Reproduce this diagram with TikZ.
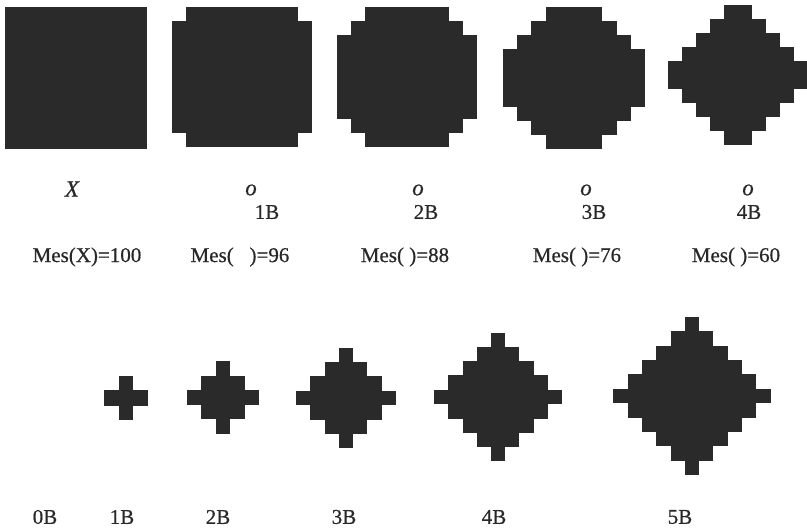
\documentclass[tikz,border=0pt]{standalone}
\usepackage{fontspec}
\setmainfont{Liberation Serif}
\newfontfamily\scanfont{Liberation Serif}[FakeBold=0.6]
\newfontfamily\scanitfont{Liberation Serif Italic}[FakeBold=0.6]
\definecolor{shapefill}{RGB}{42,42,42}
\definecolor{txt}{RGB}{40,40,40}
\newcommand\mysq[4]{%
  \foreach \r in {0,...,9}{%
    \pgfmathtruncatemacro\dd{min(\r,9-\r)}%
    \pgfmathtruncatemacro\mm{max(0,#3-\dd)}%
    \fill[shapefill] ({#1+\mm*#4},{#2+\r*#4-0.3}) rectangle ({#1+(10-\mm)*#4},{#2+(\r+1)*#4+0.3});
  }}
\newcommand\mydiam[4]{%
  \foreach \r in {-#3,...,#3}{%
    \pgfmathsetmacro\hh{(#3-abs(\r))+0.5}%
    \fill[shapefill] ({#1-\hh*#4},{#2+(\r-0.5)*#4-0.3}) rectangle ({#1+\hh*#4},{#2+(\r+0.5)*#4+0.3});
  }}
\tikzset{
  lbl/.style={inner sep=0pt, text=txt, font=\scanfont\fontsize{21}{23}\selectfont},
  ital/.style={inner sep=0pt, text=txt, font=\scanitfont\fontsize{23}{25}\selectfont},
}
\begin{document}
\begin{tikzpicture}[x=1pt,y=-1pt]
\useasboundingbox (0,0) rectangle (807,529);
% top row
\mysq{5}{7}{0}{14.2}
\mysq{172}{7}{1}{14.0}
\mysq{337}{7}{2}{14.0}
\mysq{503}{7}{3}{14.2}
\mysq{668}{5}{4}{14.0}
\node[ital] (lx) at (72,189) {X};
\node[ital] (o1) at (251,190) {o};
\node[ital] (o2) at (418,190) {o};
\node[ital] (o3) at (586,190) {o};
\node[ital] (o4) at (748,190) {o};
\node[lbl] (t1) at (267,212) {1B};
\node[lbl] (t2) at (426,212) {2B};
\node[lbl] (t3) at (594,212) {3B};
\node[lbl] (t4) at (749,212) {4B};
\node[lbl] (m0) at (87,257) {Mes(X)=100};
\node[lbl] (m1) at (240,257) {Mes(\ \ \ )=96};
\node[lbl] (m2) at (405,257) {Mes(\ )=88};
\node[lbl] (m3) at (577,257) {Mes(\ )=76};
\node[lbl] (m4) at (736,257) {Mes(\ )=60};
% bottom row
\mydiam{126}{398}{1}{14.7}
\mydiam{223}{397.5}{2}{14.4}
\mydiam{346}{398}{3}{14.3}
\mydiam{498}{397}{4}{14.2}
\mydiam{692}{396}{5}{14.3}
\node[lbl] (b0) at (45,517) {0B};
\node[lbl] (b1) at (122,517) {1B};
\node[lbl] (b2) at (218,517) {2B};
\node[lbl] (b3) at (344,517) {3B};
\node[lbl] (b4) at (494,517) {4B};
\node[lbl] (b5) at (680,517) {5B};
\end{tikzpicture}
\end{document}
